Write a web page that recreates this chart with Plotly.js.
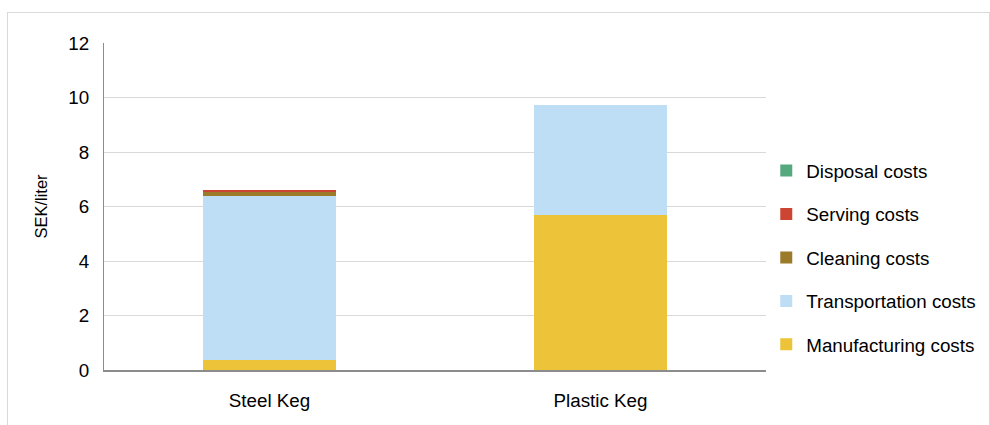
<!DOCTYPE html>
<html>
<head>
<meta charset="utf-8">
<script src="https://cdn.plot.ly/plotly-3.0.1.min.js"></script>
<style>
html,body{margin:0;padding:0;background:#fff;width:990px;height:425px;overflow:hidden;}
#chart{position:absolute;left:0;top:0;width:990px;height:425px;}
#frame{position:absolute;left:7px;top:12px;width:981px;height:430px;border:1px solid #d9d9d9;pointer-events:none;}
</style>
</head>
<body>
<div id="chart"></div>
<div id="frame"></div>
<script>
const categories = ["Steel Keg", "Plastic Keg"];
const manufacturing = [0.35, 5.68];
const transportation = [6.04, 4.03];
const cleaning = [0.15, 0.01];
const serving = [0.07, 0.0];
const disposal = [0.01, 0.01];
const yTicks = [0, 2, 4, 6, 8, 10, 12];

const series = [
  {name: "Manufacturing costs", values: manufacturing, color: "#EDC33A"},
  {name: "Transportation costs", values: transportation, color: "#BDDEF4"},
  {name: "Cleaning costs", values: cleaning, color: "#9B7B2A"},
  {name: "Serving costs", values: serving, color: "#CC4533"},
  {name: "Disposal costs", values: disposal, color: "#55A97F"}
];

const traces = series.map((s, i) => ({
  type: "bar",
  name: s.name,
  x: categories,
  y: s.values,
  width: 0.4,
  legendgroup: "g" + i,
  legendrank: 100 - i,
  marker: {color: s.color, line: {width: 0}},
  hoverinfo: "name+y"
}));

const layout = {
  width: 990, height: 425,
  margin: {l: 104, r: 224, t: 43, b: 55},
  barmode: "stack",
  paper_bgcolor: "#ffffff",
  plot_bgcolor: "#ffffff",
  font: {family: "Liberation Sans, Arial, sans-serif", size: 18.8, color: "#000"},
  xaxis: {
    showgrid: false,
    showline: true, linecolor: "#8c8c8c", linewidth: 2,
    ticks: "", ticklabelstandoff: 12,
    tickfont: {size: 18.8}
  },
  yaxis: {
    range: [0, 12],
    tickvals: yTicks,
    ticktext: yTicks.map(String),
    showgrid: true, gridcolor: "#d9d9d9", gridwidth: 1,
    showline: true, linecolor: "#8c8c8c", linewidth: 1,
    zeroline: false,
    ticks: "", ticklabelstandoff: 10,
    tickfont: {size: 18.8},
    title: {text: "SEK/liter", font: {size: 16.5}, standoff: 16}
  },
  legend: {
    xref: "container", yref: "paper",
    x: 0.774, xanchor: "left",
    y: 0.667, yanchor: "top",
    traceorder: "grouped",
    tracegroupgap: 16,
    font: {size: 18.8},
    itemwidth: 30,
    bgcolor: "rgba(0,0,0,0)"
  },
  showlegend: true
};

Plotly.newPlot("chart", traces, layout, {displayModeBar: false, staticPlot: true});
</script>
</body>
</html>
